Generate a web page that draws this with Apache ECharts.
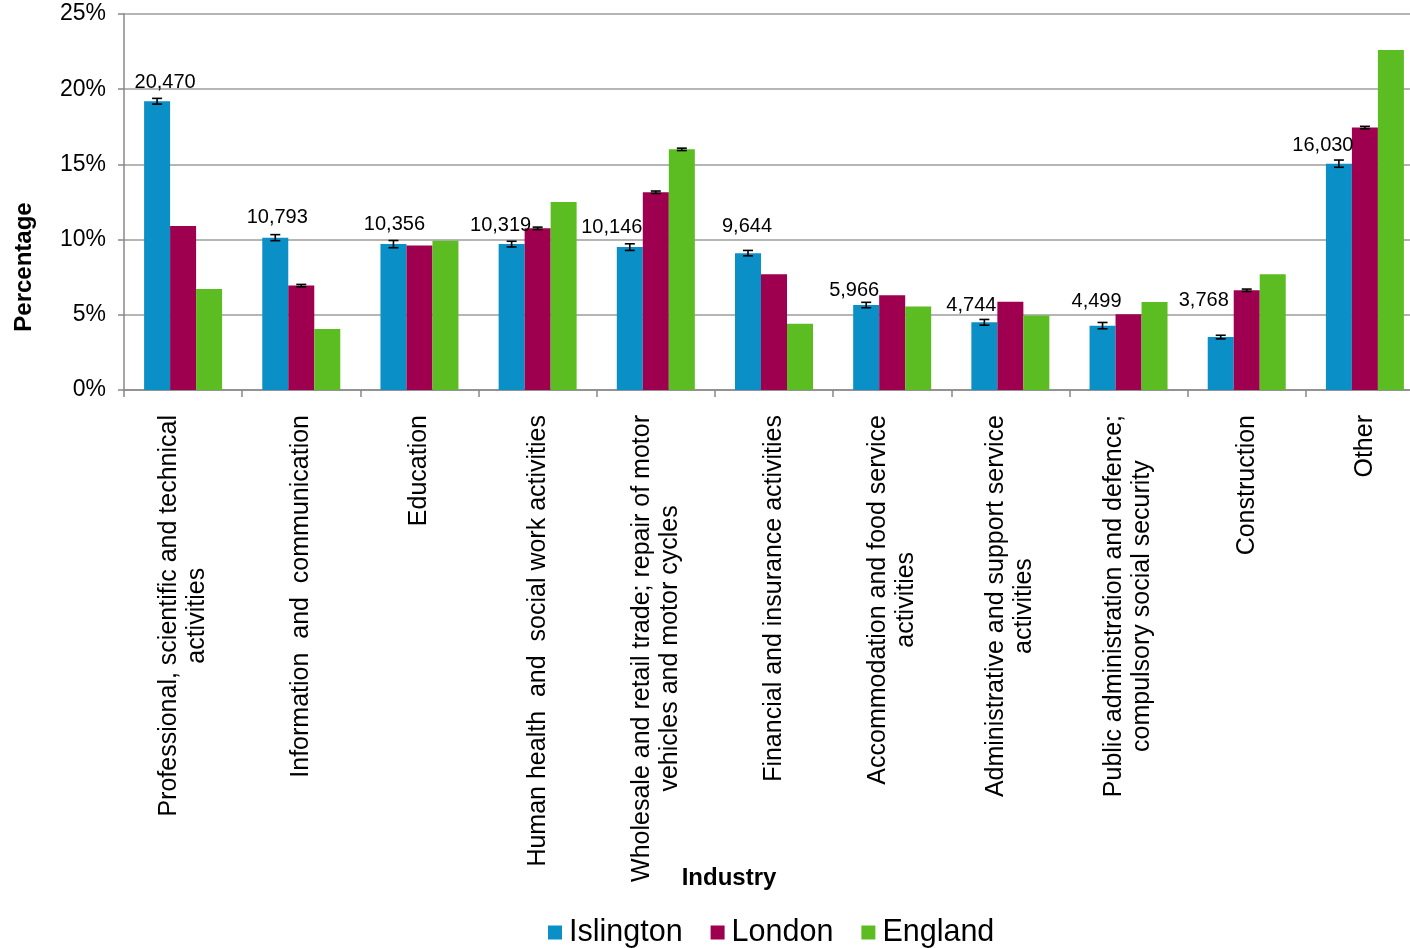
<!DOCTYPE html>
<html>
<head>
<meta charset="utf-8">
<script src="https://cdn.jsdelivr.net/npm/echarts@6/dist/echarts.min.js"></script>
<style>html,body{margin:0;padding:0;background:#fff;overflow:hidden;width:1410px;height:948px;}#c{width:1424px;height:948px;}</style>
</head>
<body>
<div id="c"></div>
<script>
const categories = [
  'Professional, scientific and technical\nactivities',
  'Information  and  communication',
  'Education',
  'Human health  and  social work activities',
  'Wholesale and retail trade; repair of motor\nvehicles and motor cycles',
  'Financial and insurance activities',
  'Accommodation and food service\nactivities',
  'Administrative and support service\nactivities',
  'Public administration and defence;\ncompulsory social security',
  'Construction',
  'Other'
];
const seriesNames = ['Islington', 'London', 'England'];
const islington = [19.2, 10.13, 9.7, 9.7, 9.5, 9.1, 5.65, 4.5, 4.28, 3.52, 15.05];
const london = [10.9, 6.94, 9.6, 10.75, 13.15, 7.7, 6.3, 5.87, 5.03, 6.63, 17.45];
const england = [6.72, 4.06, 9.93, 12.5, 16.0, 4.4, 5.56, 4.95, 5.85, 7.7, 22.6];
const islingtonCounts = [20470, 10793, 10356, 10319, 10146, 9644, 5966, 4744, 4499, 3768, 16030];
const islingtonErr = [0.19, 0.2, 0.24, 0.19, 0.22, 0.18, 0.18, 0.19, 0.21, 0.12, 0.24];
const londonErr = [0, 0.08, 0, 0.08, 0.08, 0, 0, 0, 0, 0.08, 0.08];
const englandErr = [0, 0, 0, 0, 0.08, 0, 0, 0, 0, 0, 0];
const yTicks = { min: 0, max: 25, interval: 5 };

// layout (not data): label offsets in px for the Islington count labels
const LABEL_OFFSETS = [[8,-9],[2,-10],[1,-10],[-11,-9],[-18,-10],[-1,-17],[-12,-5],[-13,-7],[-6,-14],[-17,-27],[-16,-8]];

const FONT = "'Liberation Sans', Arial, sans-serif";
const COLORS = ['#0A8FC6', '#9E004F', '#5CBD22'];
const CAT_GAP = 0.34;

function errRenderer(idx) {
  return function (params, api) {
    const cat = api.value(0), v = api.value(1), e = api.value(2);
    const bandW = api.size([1, 0])[0];
    const barW = bandW * (1 - CAT_GAP) / 3;
    const cx = api.coord([cat, v])[0] + (idx - 1) * barW;
    const yT = api.coord([cat, v + e])[1];
    const yB = api.coord([cat, v - e])[1];
    const hw = 5;
    const st = { stroke: '#000', lineWidth: 1.6 };
    return {
      type: 'group',
      children: [
        { type: 'line', shape: { x1: cx, y1: yT, x2: cx, y2: yB }, style: st },
        { type: 'line', shape: { x1: cx - hw, y1: yT, x2: cx + hw, y2: yT }, style: st },
        { type: 'line', shape: { x1: cx - hw, y1: yB, x2: cx + hw, y2: yB }, style: st }
      ]
    };
  };
}
function errData(vals, errs) {
  const out = [];
  vals.forEach((v, i) => { if (errs[i] > 0) out.push([i, v, errs[i]]); });
  return out;
}

const chart = echarts.init(document.getElementById('c'), null, { renderer: 'canvas' });
const option = {
  animation: false,
  backgroundColor: '#fff',
  textStyle: { fontFamily: FONT },
  grid: { left: 124, right: 0, top: 14, bottom: 558, containLabel: false },
  legend: {
    data: seriesNames,
    left: 543, top: 912,
    icon: 'rect', itemWidth: 14, itemHeight: 14, itemGap: 28,
    textStyle: { fontSize: 30.5, color: '#000', fontFamily: FONT, padding: [0, 0, 0, 2] }
  },
  xAxis: {
    type: 'category',
    data: categories,
    name: 'Industry',
    nameLocation: 'middle',
    nameGap: 476,
    nameMoveOverlap: false,
    nameTextStyle: { fontSize: 24, fontWeight: 'bold', color: '#000', fontFamily: FONT, padding: [0, 90, 0, 0] },
    axisLine: { lineStyle: { color: '#888', width: 1.5 } },
    axisTick: { show: true, length: 7, lineStyle: { color: '#888', width: 1.5 } },
    axisLabel: {
      rotate: 90, interval: 0, margin: 25,
      fontSize: 25, color: '#000', fontFamily: FONT, lineHeight: 28,
      formatter: v => v.split('\n').map(l => '{c|' + l + '}').join('\n'),
      rich: { c: { align: 'center', fontSize: 25, lineHeight: 28, color: '#000', fontFamily: FONT } }
    },
    splitLine: { show: false }
  },
  yAxis: {
    type: 'value',
    min: yTicks.min, max: yTicks.max, interval: yTicks.interval,
    name: 'Percentage',
    nameLocation: 'middle',
    nameGap: 88,
    nameMoveOverlap: false,
    nameTextStyle: { fontSize: 24, fontWeight: 'bold', color: '#000', fontFamily: FONT, padding: [0, 130, 0, 0] },
    axisLine: { show: true, lineStyle: { color: '#888', width: 1.5 } },
    axisTick: { show: true, length: 6, lineStyle: { color: '#888', width: 1.5 } },
    axisLabel: { formatter: '{value}%', fontSize: 23, color: '#000', margin: 18, fontFamily: FONT },
    splitLine: { show: true, lineStyle: { color: '#9C9C9C', width: 1.5 } }
  },
  series: [
    {
      name: 'Islington', type: 'bar', barGap: '0%', barCategoryGap: (CAT_GAP * 100) + '%',
      itemStyle: { color: COLORS[0] },
      data: islington.map((v, i) => ({
        value: v,
        label: {
          show: true, position: 'top', distance: 0, offset: LABEL_OFFSETS[i],
          formatter: () => islingtonCounts[i].toLocaleString('en-GB'),
          fontSize: 20, color: '#000', fontFamily: FONT
        }
      })),
      z: 2
    },
    { name: 'London', type: 'bar', barGap: '0%', barCategoryGap: (CAT_GAP * 100) + '%', itemStyle: { color: COLORS[1] }, data: london, z: 2 },
    { name: 'England', type: 'bar', barGap: '0%', barCategoryGap: (CAT_GAP * 100) + '%', itemStyle: { color: COLORS[2] }, data: england, z: 2 },
    { name: 'errI', type: 'custom', renderItem: errRenderer(0), data: errData(islington, islingtonErr), z: 5, encode: { x: 0, y: 1 } },
    { name: 'errL', type: 'custom', renderItem: errRenderer(1), data: errData(london, londonErr), z: 5, encode: { x: 0, y: 1 } },
    { name: 'errE', type: 'custom', renderItem: errRenderer(2), data: errData(england, englandErr), z: 5, encode: { x: 0, y: 1 } }
  ]
};
chart.setOption(option);
</script>
</body>
</html>
